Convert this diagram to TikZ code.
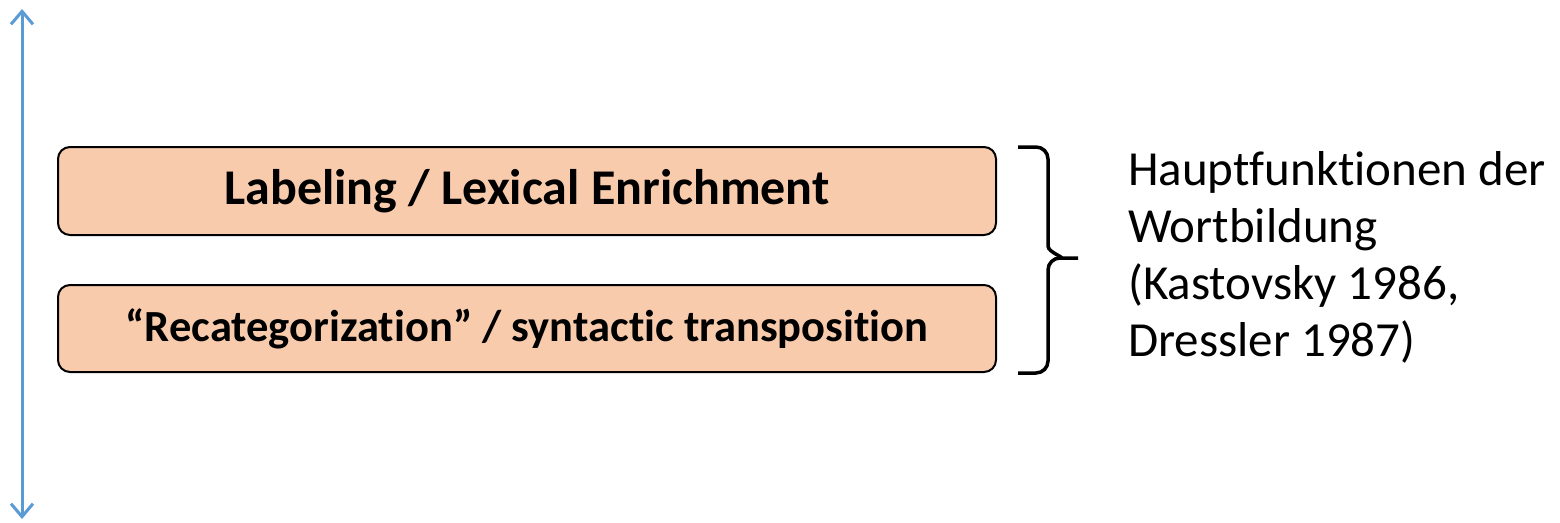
\documentclass[tikz,border=0pt]{standalone}
\usepackage{fontspec}
\setmainfont{Carlito}[Ligatures=NoCommon]
\usetikzlibrary{arrows.meta}
\definecolor{peach}{HTML}{F8CBAD}
\definecolor{arrowblue}{HTML}{5B9BD5}
\tikzset{
  funcbox/.style={draw=black, line width=2pt, fill=peach, rounded corners=12pt,
    minimum width=938pt, inner sep=0pt, font=\bfseries},
}

\begin{document}
\begin{tikzpicture}[x=1pt,y=-1pt]
    \useasboundingbox (0,0) rectangle (1560,522);
    \coordinate (top) at (22,9);
    \coordinate (bottom) at (22,519);
    \draw[arrowblue, line width=3pt, {Straight Barb[length=13pt,width=22pt]}-{Straight Barb[length=13pt,width=22pt]}] (top) -- (bottom);
    \node[funcbox, minimum height=88pt, font=\fontsize{50}{60}\selectfont\bfseries] (labeling) at (527,191) {Labeling / Lexical Enrichment};
    \node[funcbox, minimum height=87pt, font=\fontsize{44.5}{53}\selectfont\bfseries] (recat) at (527,328.5) {“Recategorization” / syntactic transposition};
    \draw[line width=3.5pt] (1018,147) -- (1036,147) to[out=0,in=90] (1048,159) -- (1048,246)
      to[out=-90,in=0] (1060,258) -- (1078,258);
    \draw[line width=3.5pt] (1060,258) to[out=180,in=90] (1048,270) -- (1048,361)
      to[out=-90,in=0] (1036,373) -- (1018,373);
    \node[anchor=north west, align=left, inner sep=0pt, font=\fontsize{49}{57}\selectfont] (source) at (1128,151)
      {Hauptfunktionen der\\Wortbildung\\(Kastovsky 1986,\\Dressler 1987)};
  \end{tikzpicture}
\end{document}
